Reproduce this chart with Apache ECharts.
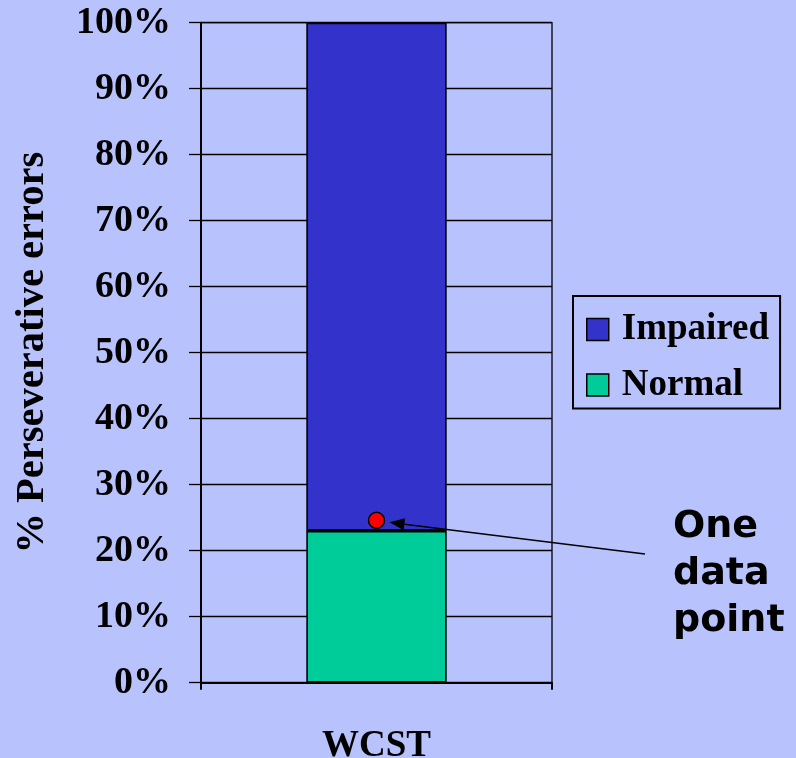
<!DOCTYPE html>
<html>
<head>
<meta charset="utf-8">
<script src="https://cdn.jsdelivr.net/npm/echarts@6/dist/echarts.min.js"></script>
<style>
html,body{margin:0;padding:0;background:#b8c3fd;}
#c{width:796px;height:758px;}
</style>
</head>
<body>
<div id="c"></div>
<script>
var categories = ['WCST'];
var normalValues = [23];
var impairedValues = [77];
var dataPointValues = [24.6];
var yTickLabels = ['0%','10%','20%','30%','40%','50%','60%','70%','80%','90%','100%'];
var legendNames = ['Impaired','Normal'];
var yAxisTitle = '% Perseverative errors';
var noteText = 'One\ndata\npoint';

var serif = 'Liberation Serif';
var chart = echarts.init(document.getElementById('c'), null, {renderer:'canvas'});
var option = {
  backgroundColor: '#b8c3fd',
  animation: false,
  grid: {left: 201, right: 244, top: 22.7, bottom: 75.3, containLabel: false, outerBoundsMode: 'none',
         show: true, borderColor: '#000', borderWidth: 1.3, backgroundColor: 'transparent'},
  legend: {
    data: legendNames,
    orient: 'vertical',
    left: 573, top: 296,
    padding: [15, 11, 5, 13],
    itemGap: 18.5,
    itemWidth: 22, itemHeight: 22,
    borderColor: '#000', borderWidth: 2,
    icon: 'rect',
    itemStyle: {borderColor: '#000', borderWidth: 1.5},
    textStyle: {fontFamily: serif, fontWeight: 'bold', fontSize: 37, color: '#000', lineHeight: 37, padding: [0,0,0,8]}
  },
  xAxis: {
    type: 'category', data: categories, boundaryGap: true,
    axisLine: {lineStyle: {color: '#000', width: 2}},
    axisTick: {show: true, length: 7, inside: false, lineStyle: {color: '#000', width: 2}},
    axisLabel: {fontFamily: serif, fontWeight: 'bold', fontSize: 37, color: '#000', margin: 45}
  },
  yAxis: {
    type: 'value', min: 0, max: 100, interval: 10,
    name: yAxisTitle, nameLocation: 'middle', nameGap: 148, nameRotate: 90,
    nameTextStyle: {fontFamily: serif, fontWeight: 'bold', fontSize: 40.5, color: '#000'},
    axisLine: {show: true, lineStyle: {color: '#000', width: 2}},
    axisTick: {show: true, length: 12, lineStyle: {color: '#000', width: 1.3}},
    splitLine: {show: true, lineStyle: {color: '#000', width: 1.3}},
    axisLabel: {
      fontFamily: serif, fontWeight: 'bold', fontSize: 38, color: '#000', margin: 30,
      formatter: function(v){ return yTickLabels[Math.round(v/10)]; }
    }
  },
  series: [
    {name: 'Normal', type: 'bar', stack: 's', data: normalValues, barWidth: '40%',
     itemStyle: {color: '#00cc99', borderColor: '#000', borderWidth: 1.6}},
    {name: 'Impaired', type: 'bar', stack: 's', data: impairedValues, barWidth: '40%',
     itemStyle: {color: '#3333cc', borderColor: '#000', borderWidth: 1.6}},
    {name: 'One data point', type: 'scatter', data: dataPointValues, symbolSize: 16, z: 5,
     itemStyle: {color: '#ff0000', borderColor: '#000', borderWidth: 1.5, opacity: 1}}
  ]
};
chart.setOption(option);

var p = chart.convertToPixel({seriesIndex: 2}, [0, dataPointValues[0]]);
var tip = [p[0] + 13, p[1] + 2];
var tail = [645, 554];
var dx = tip[0] - tail[0], dy = tip[1] - tail[1];
var len = Math.sqrt(dx*dx + dy*dy);
var ux = dx/len, uy = dy/len;
var hl = 15, hw = 6;
var base = [tip[0] - ux*hl, tip[1] - uy*hl];
chart.setOption({
  graphic: [
    {type: 'line', shape: {x1: tail[0], y1: tail[1], x2: base[0], y2: base[1]}, style: {stroke: '#000', lineWidth: 1.5}, z: 10},
    {type: 'polygon', shape: {points: [tip, [base[0] - uy*hw, base[1] + ux*hw], [base[0] + uy*hw, base[1] - ux*hw]]}, style: {fill: '#000'}, z: 10},
    {type: 'text', left: 673, top: 504, style: {text: noteText, font: 'bold 38px "DejaVu Sans"', fill: '#000', lineHeight: 47}, z: 10}
  ]
});
</script>
</body>
</html>
